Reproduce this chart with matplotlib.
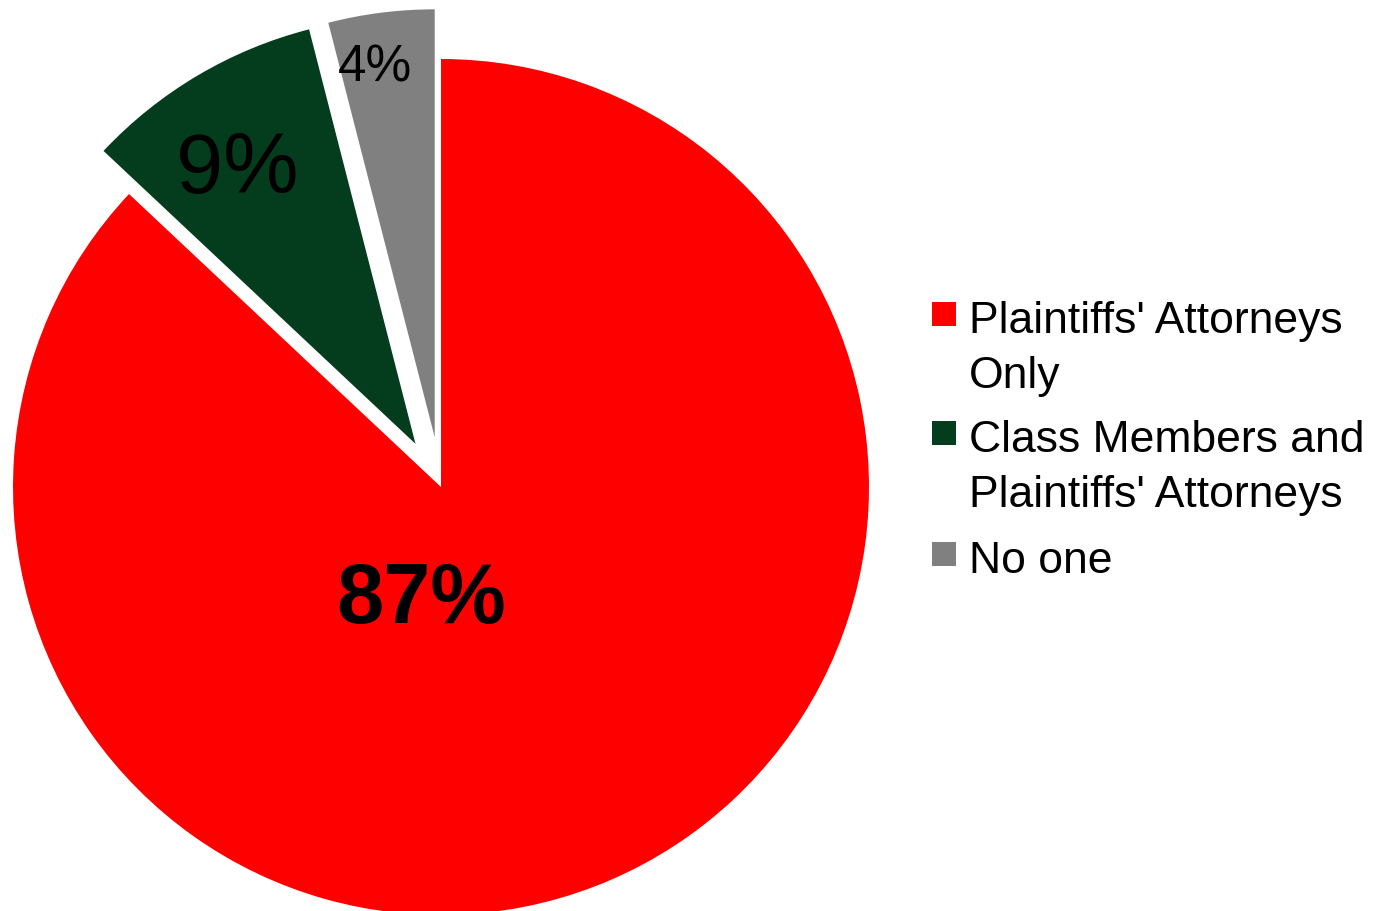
import matplotlib.pyplot as plt
from matplotlib.patches import Rectangle

plt.rcParams['font.family'] = ['Liberation Sans', 'DejaVu Sans']

categories = ["Plaintiffs' Attorneys\nOnly", "Class Members and\nPlaintiffs' Attorneys", "No one"]
values = [87, 9, 4]
pct_labels = ["87%", "9%", "4%"]
colors = ["#ff0000", "#033d1e", "#808080"]

W, H = 1398, 912
fig = plt.figure(figsize=(W / 100, H / 100), dpi=100)
ax = fig.add_axes([0, 0, 1, 1])

# pie centre at (441, 488) px, radius 428 px
cx, cy, r = 441, 488, 428
wedges, _ = ax.pie(values, colors=colors, startangle=90, counterclock=False,
                   explode=[0, 0.117, 0.117], radius=1,
                   wedgeprops=dict(linewidth=0))
ax.set_aspect('auto')
ax.set_xlim(-cx / r, (W - cx) / r)
ax.set_ylim(-(H - cy) / r, cy / r)
ax.axis('off')

def px(x, y):
    return (x - cx) / r, (cy - y) / r

# percentage labels (x centre, baseline y in px)
ax.text(*px(421, 623), pct_labels[0], ha='center', va='baseline',
        fontsize=61, fontweight='bold', color='black')
ax.text(*px(237, 193), pct_labels[1], ha='center', va='baseline',
        fontsize=61, color='black')
ax.text(*px(375, 82), pct_labels[2], ha='center', va='baseline',
        fontsize=37, color='black')

# legend drawn by hand so the swatch sits on the first line
tops = [303, 422, 543]
line_gap = 55
for lab, col, top in zip(categories, colors, tops):
    fig.add_artist(Rectangle((932 / W, 1 - (top + 24) / H), 24 / W, 24 / H,
                             transform=fig.transFigure, facecolor=col,
                             edgecolor='none'))
    for i, line in enumerate(lab.split("\n")):
        base = top + 30 + i * line_gap
        fig.text(969 / W, 1 - base / H, line, ha='left', va='baseline',
                 fontsize=32, color='black')

fig.savefig("out.png", dpi=100)
